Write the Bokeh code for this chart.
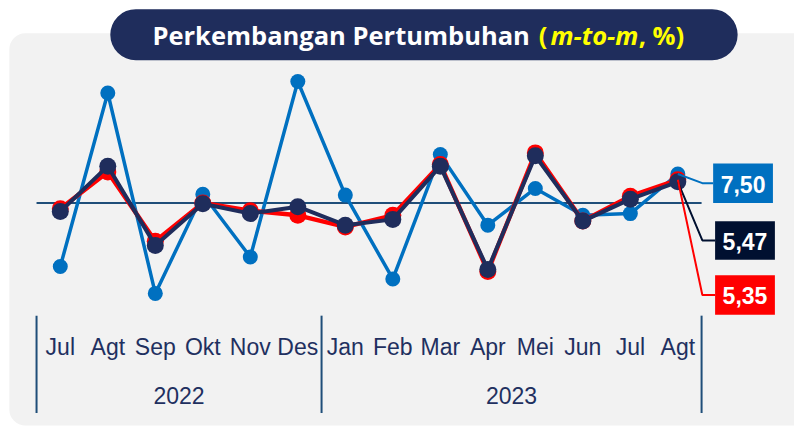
from bokeh.plotting import figure
from bokeh.models import Range1d, BoxAnnotation, Label, ColumnDataSource
from bokeh.embed import file_html
from bokeh.resources import INLINE
from bokeh.core.properties import value

# ---------------- data ----------------
months = ["Jul", "Agt", "Sep", "Okt", "Nov", "Des", "Jan", "Feb", "Mar", "Apr", "Mei", "Jun", "Jul", "Agt"]
years = ["2022", "2023"]
year_counts = [6, 8]
series_blue = [-2.20, 3.80, -3.13, 0.30, -1.87, 4.20, 0.27, -2.63, 1.67, -0.77, 0.50, -0.43, -0.37, 1.00]
series_red = [-0.20, 1.07, -1.33, 0.00, -0.27, -0.43, -0.83, -0.43, 1.33, -2.37, 1.73, -0.63, 0.23, 0.80]
series_navy = [-0.30, 1.27, -1.47, -0.03, -0.37, -0.13, -0.77, -0.57, 1.27, -2.30, 1.63, -0.63, 0.13, 0.73]
end_labels = ["7,50", "5,47", "5,35"]

# ---------------- layout helpers (reference pixel -> data) ----------------
PX0, PXS = 61.0, 48.46     # x pixel of first category, pixels per category
PY0, PYS = 210.0, 30.0     # y pixel of zero line, pixels per unit
REF_W, REF_H = 810, 442


def xd(px):
    return (px - PX0) / PXS


def yd(py):
    return (PY0 - py) / PYS


W, H = 794, 426
p = figure(width=W, height=H,
           x_range=Range1d(xd(0), xd(REF_W)),
           y_range=Range1d(yd(REF_H), yd(0)),
           x_axis_type=None, y_axis_type=None,
           output_backend="svg", toolbar_location=None,
           min_border=0, outline_line_color=None,
           background_fill_color="white", border_fill_color="white")
p.grid.visible = False

NAVY = "#1F2D5C"
BLUE = "#0070C0"
RED = "#FF0000"
AXC = "#1F4E79"
TXT = "#1F3060"
FONT = "Liberation Sans"
TFONT = "Open Sans"

# gray rounded panel
p.add_layout(BoxAnnotation(left=xd(9), right=xd(840), top=yd(34), bottom=yd(441),
                           fill_color="#F2F2F2", fill_alpha=1, line_color=None,
                           border_radius=16, level="underlay"))
# title pill
p.add_layout(BoxAnnotation(left=xd(112), right=xd(752), top=yd(9), bottom=yd(62),
                           fill_color=NAVY, fill_alpha=1, line_color=None,
                           border_radius=26, level="underlay"))

xs = list(range(len(months)))

# zero line
p.line([-0.5, len(months) - 0.5], [0, 0], line_color=AXC, line_width=2)

# series
p.line(xs, series_blue, line_color=BLUE, line_width=3.5)
p.scatter(xs, series_blue, size=15, fill_color=BLUE, line_color=None)
p.line(xs, series_red, line_color=RED, line_width=4.5)
p.scatter(xs, series_red, size=17, fill_color=RED, line_color=None)
p.line(xs, series_navy, line_color=NAVY, line_width=4)
p.scatter(xs, series_navy, size=17, fill_color=NAVY, line_color=None)

# connectors + end value boxes
last = len(months) - 1
box_specs = [  # (series, colour, box top px, box bottom px, box left px)
    (series_blue, BLUE, 169, 210, 727),
    (series_navy, "#001030", 229, 269, 729),
    (series_red, RED, 285, 326, 729),
]
for (ser, col, top, bot, left), lab in zip(box_specs, end_labels):
    cy = (top + bot) / 2
    p.line([last, xd(716), xd(left)], [ser[last], yd(cy), yd(cy)], line_color=col, line_width=2)
    p.add_layout(BoxAnnotation(left=xd(left), right=xd(left + 61), top=yd(top), bottom=yd(bot),
                               fill_color=col, fill_alpha=1, line_color=None, level="annotation"))
    p.add_layout(Label(x=xd(left + 30.5), y=yd(cy + 1), text=lab, text_color="white",
                       text_font=FONT, text_font_style="bold",
                       text_font_size="23px", text_align="center", text_baseline="middle",
                       level="overlay"))

# category axis: separators, month labels, year labels
bounds = [-0.5]
for c in year_counts:
    bounds.append(bounds[-1] + c)
p.segment(x0=bounds, y0=[yd(327)] * len(bounds), x1=bounds, y1=[yd(428)] * len(bounds),
          line_color=AXC, line_width=2)
src = ColumnDataSource(dict(x=xs, y=[yd(360)] * len(xs), t=months))
p.text(x="x", y="y", text="t", source=src, text_color=TXT,
       text_font=value(FONT), text_font_size="23px",
       text_align="center", text_baseline="middle")
ymid = [(bounds[i] + bounds[i + 1]) / 2 for i in range(len(years))]
p.text(x=ymid, y=[yd(410)] * len(years), text=years, text_color=TXT,
       text_font=value(FONT), text_font_size="23px",
       text_align="center", text_baseline="middle")

# title
TS = "25.5px"
p.add_layout(Label(x=xd(155), y=yd(36), text="Perkembangan Pertumbuhan", text_color="white",
                   text_font=TFONT, text_font_style="bold", text_font_size=TS,
                   text_align="left", text_baseline="middle"))
p.add_layout(Label(x=xd(549), y=yd(36), text="(", text_color="#FFFF00",
                   text_font=TFONT, text_font_style="bold", text_font_size=TS,
                   text_align="left", text_baseline="middle"))
p.add_layout(Label(x=xd(561), y=yd(36), text="m-to-m", text_color="#FFFF00",
                   text_font=TFONT, text_font_style="bold italic", text_font_size=TS,
                   text_align="left", text_baseline="middle"))
p.add_layout(Label(x=xd(651), y=yd(36), text=", %)", text_color="#FFFF00",
                   text_font=TFONT, text_font_style="bold", text_font_size=TS,
                   text_align="left", text_baseline="middle"))

open("out.html", "w").write(file_html(p, INLINE))
